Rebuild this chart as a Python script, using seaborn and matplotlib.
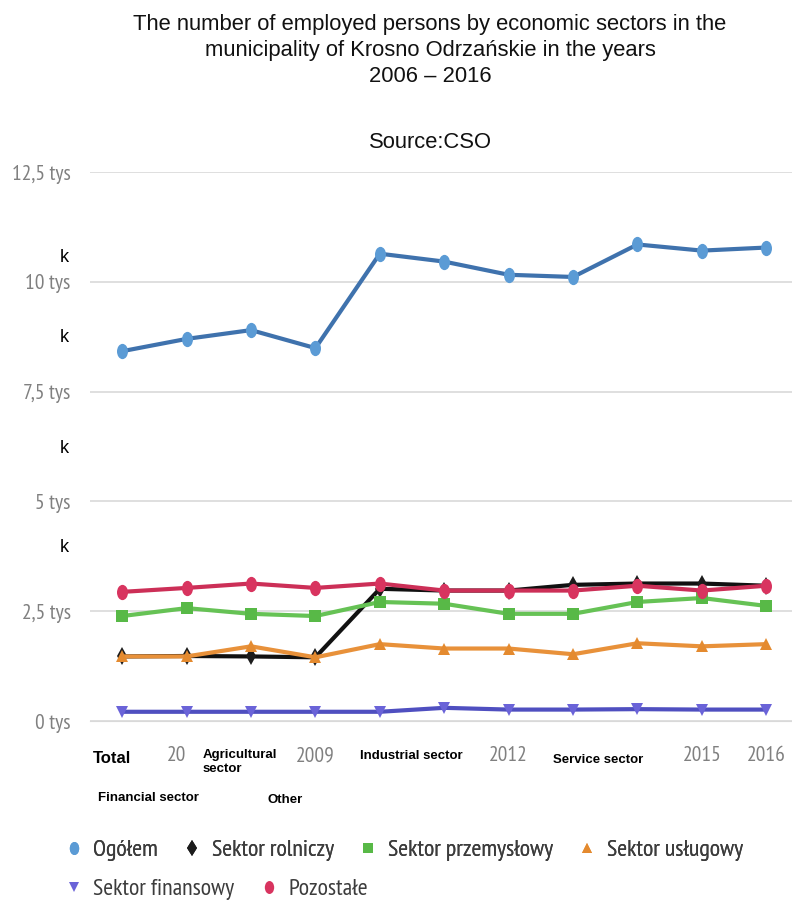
import matplotlib
matplotlib.use('Agg')
import matplotlib.pyplot as plt
from matplotlib import font_manager
from matplotlib.lines import Line2D
from matplotlib.path import Path
import seaborn as sns
import pandas as pd
import numpy as np

# data, thousands of persons
years = ['2006', '2007', '2008', '2009', '2010', '2011',
         '2012', '2013', '2014', '2015', '2016']
ogolem = [8.42, 8.70, 8.90, 8.49, 10.64, 10.46, 10.16, 10.11, 10.85, 10.71, 10.78]
rolniczy = [1.47, 1.48, 1.47, 1.45, 3.01, 2.97, 2.97, 3.10, 3.13, 3.13, 3.08]
przemyslowy = [2.39, 2.57, 2.44, 2.39, 2.71, 2.67, 2.44, 2.44, 2.71, 2.80, 2.62]
uslugowy = [1.47, 1.47, 1.70, 1.45, 1.75, 1.65, 1.65, 1.52, 1.77, 1.70, 1.75]
finansowy = [0.21, 0.21, 0.21, 0.21, 0.21, 0.30, 0.26, 0.26, 0.27, 0.26, 0.26]
pozostale = [2.94, 3.03, 3.13, 3.03, 3.13, 2.97, 2.97, 2.97, 3.08, 2.97, 3.08]

series_names = ['Ogółem', 'Sektor rolniczy', 'Sektor przemysłowy',
                'Sektor usługowy', 'Sektor finansowy', 'Pozostałe']
series_values = [ogolem, rolniczy, przemyslowy, uslugowy, finansowy, pozostale]

ytick_vals = [0, 2.5, 5, 7.5, 10, 12.5]
ytick_labels = ['0 tys', '2,5 tys', '5 tys', '7,5 tys', '10 tys', '12,5 tys']

title = ('The number of employed persons by economic sectors in the\n'
         'municipality of Krosno Odrzańskie in the years\n2006 – 2016')
source = 'Source:CSO'
# (text, left x px, center y px, size)
x_overlays = [('Total', 93, 758, 12), ('Agricultural\nsector', 203, 762, 9.5),
              ('Industrial sector', 360, 756, 9.5), ('Service sector', 553, 760, 9.5),
              ('Financial sector', 98, 798, 9.5), ('Other', 268, 800, 9.5)]
k_rows = [257, 338, 448, 548]

colors = ['#5b9bd5', '#1c1c1c', '#58b947', '#e48a2f', '#6a63d8', '#d8345f']
line_colors = ['#3f72ad', '#111111', '#66c255', '#e8913a', '#4f4fc0', '#cc2f57']

# vertically stretched ellipse marker, like the picture
circ = Path.unit_circle()
ellipse = Path(circ.vertices * np.array([0.72, 1.0]), circ.codes)
marker_list = [ellipse, 'd', 's', '^', 'v', ellipse]
marker_sizes = [11, 9, 9, 9, 9, 11]

df = pd.DataFrame({
    'pos': np.tile(np.arange(len(years)), len(series_names)),
    'value': np.concatenate(series_values),
    'series': np.repeat(series_names, len(years)),
})

sns.set_style('white')
names = {f.name for f in font_manager.fontManager.ttflist}
narrow = 'DejaVu Sans'
for cand in ['PT Sans Narrow', 'Roboto Condensed', 'Archivo Narrow',
             'Fira Sans Condensed', 'Liberation Sans Narrow']:
    if cand in names:
        narrow = cand
        break
plt.rcParams['font.family'] = ['Liberation Sans', 'DejaVu Sans']

W, H = 792, 905
fig = plt.figure(figsize=(W / 100, H / 100), dpi=100)
ax = fig.add_axes([90 / W, 1 - 721 / H, (W - 90) / W, (721 - 172) / H])

sns.lineplot(data=df, x='pos', y='value', hue='series', style='series',
             hue_order=series_names, style_order=series_names,
             palette=dict(zip(series_names, line_colors)),
             markers=dict(zip(series_names, marker_list)), dashes=False,
             linewidth=3, markeredgewidth=0, legend=False, ax=ax, clip_on=False)

for line, c, ms in zip(ax.lines, colors, marker_sizes):
    line.set_markerfacecolor(c)
    line.set_markersize(ms)
    line.set_solid_capstyle('round')
    line.set_solid_joinstyle('round')

ax.set_xlim(-0.5, 10.4)
ax.set_ylim(0, 12.5)
ax.set_xticks(range(len(years)))
ax.set_xticklabels(years, fontfamily=narrow, fontsize=15.5, color='#808080')
ax.set_xticks(np.arange(-0.5, len(years) - 0.5, 1), minor=True)
ax.tick_params(axis='x', which='major', length=0, pad=18)
ax.tick_params(axis='x', which='minor', length=14, color='#d9d9d9', width=1)
ax.set_yticks(ytick_vals)
ax.set_yticklabels(ytick_labels, fontfamily=narrow, fontsize=15.5, color='#808080')
ax.tick_params(axis='y', length=0, pad=14)
ax.yaxis.grid(True, color='#d9d9d9', linewidth=1.2)
ax.set_axisbelow(True)
ax.set_xlabel('')
ax.set_ylabel('')
for s in ['left', 'right', 'top']:
    ax.spines[s].set_visible(False)
ax.spines['bottom'].set_color('#d9d9d9')

# title and source
fig.text(430 / W, 1 - 14 / H, title, ha='center', va='top', fontsize=15.8,
         linespacing=1.32, color='#111111')
fig.text(430 / W, 1 - 142 / H, source, ha='center', va='center', fontsize=15.8,
         color='#111111')

# translated overlays with white background
for txt, x, y, size in x_overlays:
    fig.text(x / W, 1 - y / H, txt, ha='left', va='center', fontsize=size,
             fontweight='bold', color='black', linespacing=1.25,
             bbox=dict(facecolor='white', edgecolor='none', pad=12))
for y in k_rows:
    fig.text(64 / W, 1 - y / H, 'k', ha='center', va='center', fontsize=13,
             color='black')

# legend in two rows
handles = [Line2D([], [], linestyle='none', marker=m, markersize=ms * 0.85,
                  markerfacecolor=c, markeredgewidth=0)
           for m, ms, c in zip(marker_list, marker_sizes, colors)]
leg_kw = dict(loc='center left', frameon=False, handlelength=0.65,
              handletextpad=0.5, columnspacing=1.1, borderaxespad=0,
              borderpad=0, prop=dict(family=narrow, size=17.2), labelcolor='#3c3c3c')
leg1 = fig.legend(handles[:4], series_names[:4], ncol=4,
                  bbox_to_anchor=(66 / W, 1 - 850 / H), **leg_kw)
fig.legend(handles[4:], series_names[4:], ncol=2,
           bbox_to_anchor=(66 / W, 1 - 889 / H), **leg_kw)
fig.add_artist(leg1)

fig.savefig('out.png', dpi=100, facecolor='white')
